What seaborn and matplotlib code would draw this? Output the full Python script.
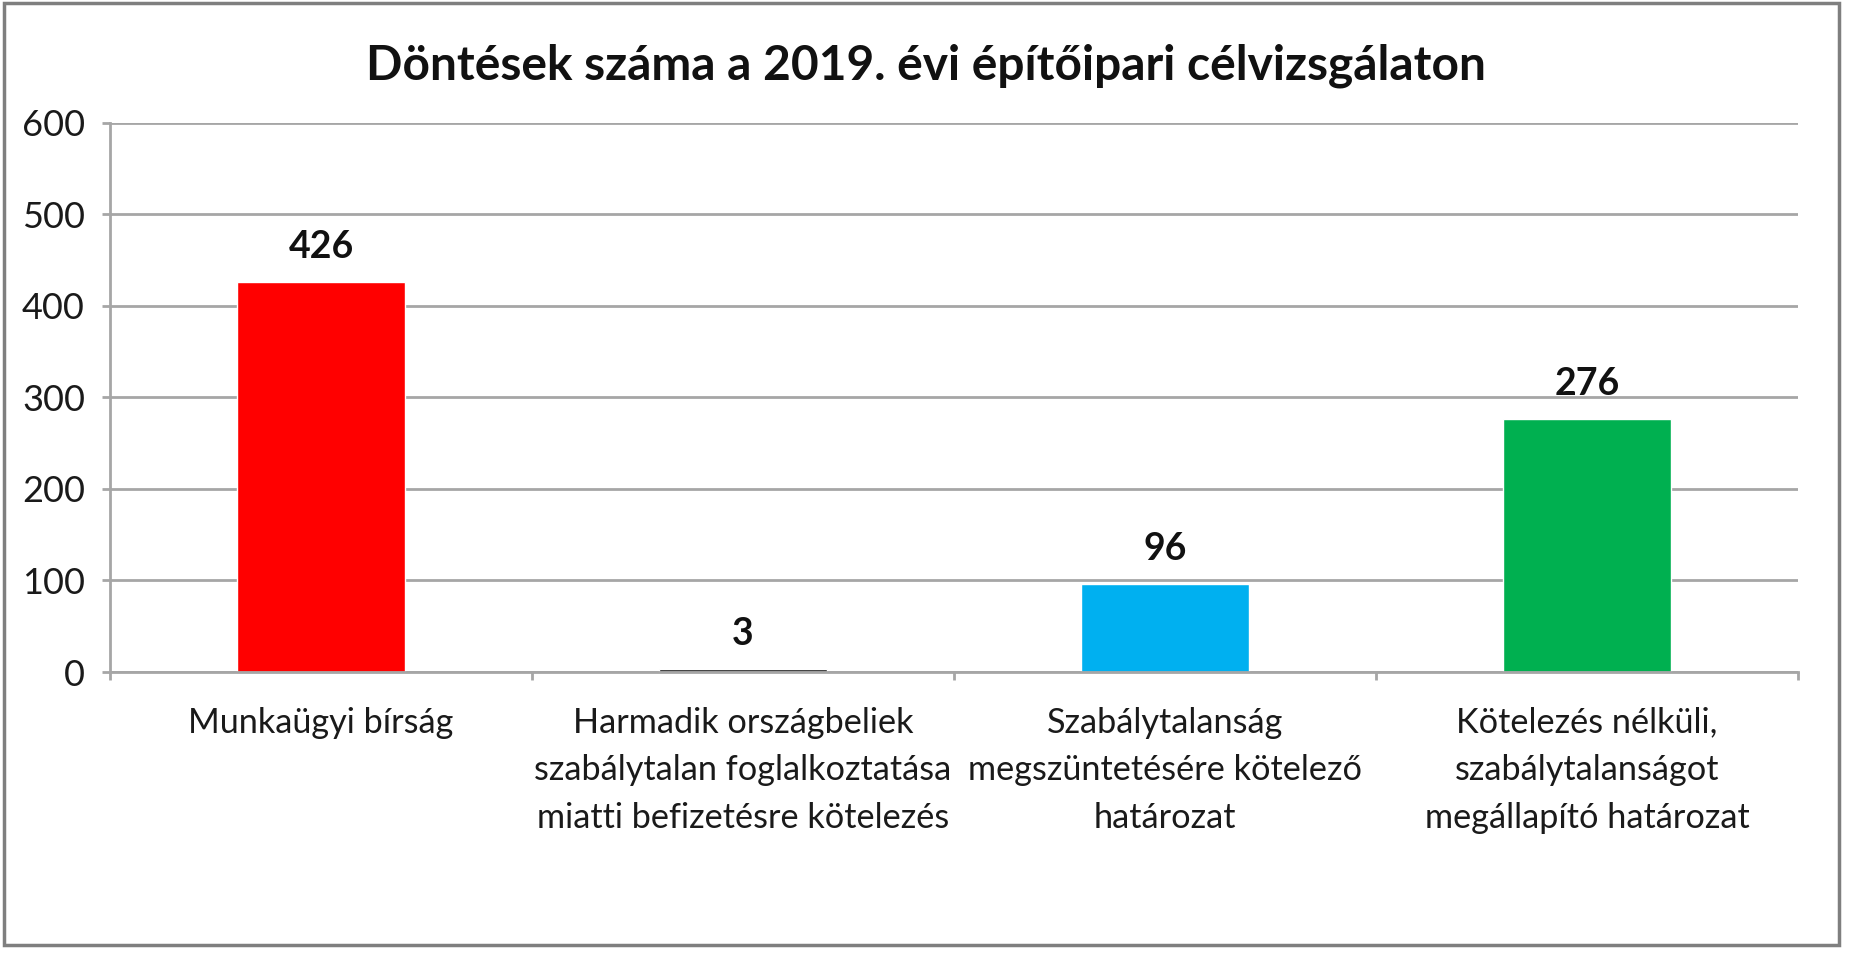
import matplotlib
matplotlib.use("Agg")
import matplotlib.pyplot as plt
from matplotlib.patches import Rectangle
import seaborn as sns
import pandas as pd

title = "Döntések száma a 2019. évi építőipari célvizsgálaton"
categories = [
    "Munkaügyi bírság",
    "Harmadik országbeliek\nszabálytalan foglalkoztatása\nmiatti befizetésre kötelezés",
    "Szabálytalanság\nmegszüntetésére kötelező\nhatározat",
    "Kötelezés nélküli,\nszabálytalanságot\nmegállapító határozat",
]
values = [426, 3, 96, 276]
colors = ["#FF0000", "#1A1A1A", "#00B0F0", "#00B050"]
yticks = [0, 100, 200, 300, 400, 500, 600]

sns.set_theme(style="white")
plt.rcParams["font.family"] = ["Lato", "DejaVu Sans"]

df = pd.DataFrame({"cat": categories, "val": values})

fig = plt.figure(figsize=(18.52, 9.6), dpi=100)
ax = fig.add_axes([0.0594, 0.30, 0.9114, 0.5719])

sns.barplot(data=df, x="cat", y="val", hue="cat", palette=colors,
            width=0.4, legend=False, ax=ax, saturation=1)

ax.set_xlim(-0.5, 3.5)
ax.set_ylim(0, 600)
ax.set_yticks(yticks)
ax.set_yticklabels([str(t) for t in yticks], fontsize=26, color="#1a1a1a")
ax.set_xlabel("")
ax.set_ylabel("")

ax.yaxis.grid(True, color="#A6A6A6", linewidth=2)
ax.set_axisbelow(True)
for s in ["top", "right"]:
    ax.spines[s].set_visible(False)
for s in ["left", "bottom"]:
    ax.spines[s].set_color("#A6A6A6")
    ax.spines[s].set_linewidth(2)

ax.tick_params(axis="y", which="major", length=6, width=2, color="#A6A6A6",
               left=True, pad=12)
ax.set_xticks(range(len(categories)))
ax.set_xticklabels(categories, fontsize=24.7, color="#1a1a1a",
                   linespacing=1.6, ha="center", va="top")
ax.tick_params(axis="x", which="major", length=0, pad=25)
ax.set_xticks([-0.5, 0.5, 1.5, 2.5, 3.5], minor=True)
ax.tick_params(axis="x", which="minor", length=6, width=2, color="#A6A6A6",
               bottom=True)

for i, v in enumerate(values):
    ax.annotate(str(v), (i, v), xytext=(0, 13), textcoords="offset points",
                ha="center", va="bottom", fontsize=27, fontweight="bold",
                color="#111111")

fig.text(0.5, 0.932, title, ha="center", va="center", fontsize=34.5,
         fontweight="bold", color="#111111")

fig.patches.append(Rectangle((0.002, 0.016), 0.991, 0.981,
                             transform=fig.transFigure, fill=False,
                             edgecolor="#7F7F7F", linewidth=2.5))

fig.savefig("out.png", dpi=100, facecolor="white")
